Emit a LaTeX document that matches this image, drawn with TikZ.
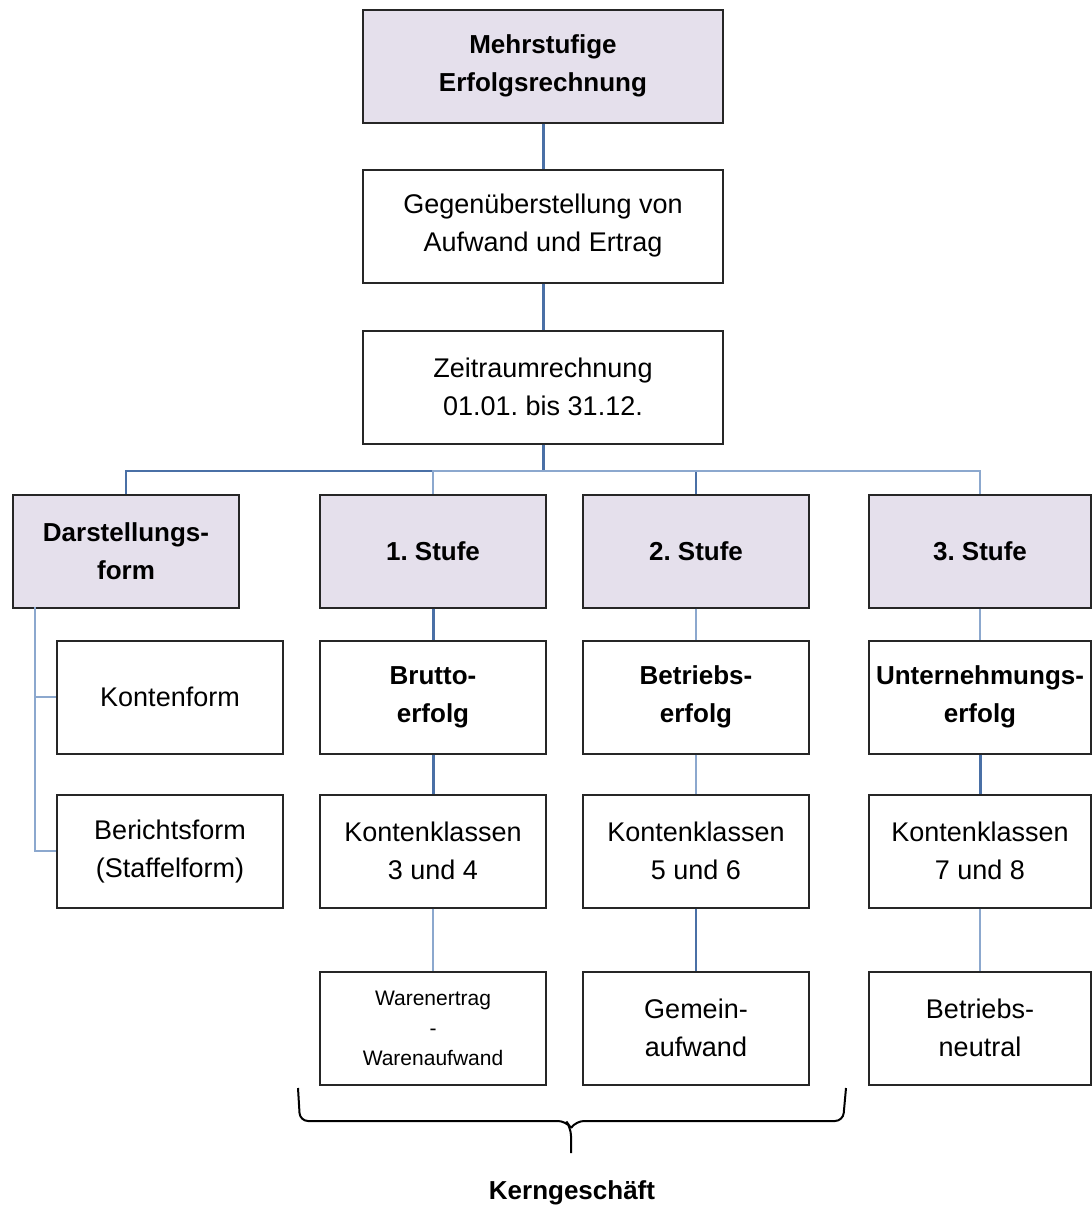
\documentclass[tikz,border=0pt]{standalone}
\usepackage{fontspec}
\setmainfont{Liberation Sans}
\usepackage{tikz}

\definecolor{lavender}{RGB}{229,224,236}
\definecolor{linkblue}{RGB}{74,112,166}
\definecolor{lightblue}{RGB}{140,168,206}

\tikzset{
  box/.style={draw=black!85, line width=1pt, minimum width=113pt, minimum height=56.5pt,
    inner sep=0pt, align=center, font=\fontsize{13.5}{19}\selectfont},
  boldbox/.style={box, font=\fontsize{13}{19}\selectfont\bfseries},
  headbox/.style={boldbox, fill=lavender},
  widebox/.style={minimum width=180pt},
  smallbox/.style={box, font=\fontsize{10.5}{15}\selectfont},
  link/.style={draw=linkblue, line width=1.5pt},
  lightlink/.style={draw=lightblue, line width=1pt}
}

\begin{document}
\frenchspacing
\begin{tikzpicture}[x=0.5pt,y=-0.5pt]

\useasboundingbox (0,0) rectangle (1092,1212);

% Draw top column

\node[headbox, widebox] (mehr) at (543,66) {Mehrstufige\\Erfolgsrechnung};

\node[box, widebox] (gegen) at (543,226) {Gegenüberstellung von\\Aufwand und Ertrag};

\node[box, widebox] (zeit) at (543,387) {Zeitraumrechnung\\01.01. bis 31.12.};

% Draw Darstellungsform

\node[headbox] (dform) at (126,551) {Darstellungs-\\form};

\node[box] (konten) at (170,697) {Kontenform};

\node[box] (bericht) at (170,851) {Berichtsform\\(Staffelform)};

% Draw 1. Stufe

\node[headbox] (stufe1) at (433,551) {1. Stufe};

\node[boldbox] (brutto) at (433,697) {Brutto-\\erfolg};

\node[box] (kk34) at (433,851) {Kontenklassen\\3 und 4};

\node[smallbox] (waren) at (433,1028) {Warenertrag\\-\\Warenaufwand};

% Draw 2. Stufe

\node[headbox] (stufe2) at (696,551) {2. Stufe};

\node[boldbox] (betrieb) at (696,697) {Betriebs-\\erfolg};

\node[box] (kk56) at (696,851) {Kontenklassen\\5 und 6};

\node[box] (gemein) at (696,1028) {Gemein-\\aufwand};

% Draw 3. Stufe

\node[headbox, minimum width=111pt] (stufe3) at (980,551) {3. Stufe};

\node[boldbox, minimum width=111pt] (unternehmen) at (980,697) {Unternehmungs-\\erfolg};

\node[box, minimum width=111pt] (kk78) at (980,851) {Kontenklassen\\7 und 8};

\node[box, minimum width=111pt] (neutral) at (980,1028) {Betriebs-\\neutral};

% Draw Connectors

\coordinate (bus) at (543,471);

\coordinate (dstem) at (35,607);

\draw[link] (mehr) -- (gegen);

\draw[link] (gegen) -- (zeit);

\draw[link] (zeit) -- (bus);

\draw[link, line width=1pt] (bus) -| (dform.north);

\draw[lightlink] (bus) -| (stufe1.north);

\draw[link, line width=1pt] (bus) -| (stufe2.north);

\draw[lightlink] (bus) -| (stufe3.north);

\draw[lightlink] (dstem) |- (konten.west);

\draw[lightlink] (dstem) |- (bericht.west);

\draw[link] (stufe1) -- (brutto);

\draw[link] (brutto) -- (kk34);

\draw[lightlink] (kk34) -- (waren);

\draw[lightlink] (stufe2) -- (betrieb);

\draw[lightlink] (betrieb) -- (kk56);

\draw[link, line width=1pt] (kk56) -- (gemein);

\draw[lightlink] (stufe3) -- (unternehmen);

\draw[link] (unternehmen) -- (kk78);

\draw[lightlink] (kk78) -- (neutral);

% Draw Brace for Kerngeschaeft

\coordinate (braceleft) at (298,1088);

\coordinate (braceright) at (846,1088);

\coordinate (bracetip) at (571,1153);

\draw[line width=1pt, rounded corners=4pt] (braceleft) -- (300,1121) -- (566,1121) -- (571,1128) -- (bracetip);

\draw[line width=1pt, rounded corners=4pt] (571,1128) -- (576,1121) -- (843,1121) -- (braceright);

\node[font=\fontsize{13}{16}\selectfont\bfseries] (kern) at (572,1193) {Kerngeschäft};

\end{tikzpicture}
\end{document}
